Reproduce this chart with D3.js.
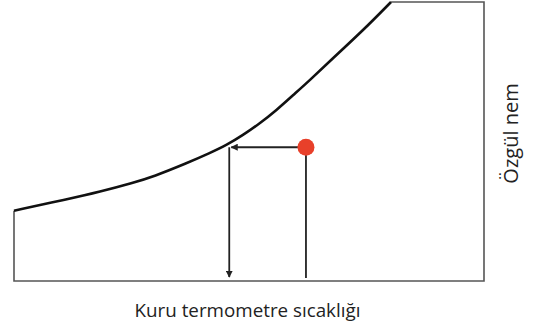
<!DOCTYPE html>
<html><head><meta charset="utf-8">
<script src="https://cdn.jsdelivr.net/npm/d3@7"></script>
<style>body{margin:0;background:#fff}svg{display:block}</style>
</head><body>
<svg id="c" width="534" height="330"></svg>
<script>
// saturation curve: dry-bulb temperature (°C) vs specific humidity (g/kg)
const satTemps = [0, 5.61, 9.15, 12.69, 14.82, 18.37, 20.85, 22.63, 24.39, 26.17, 27.95, 29.71, 31.49, 33.62, 37.13, 40.11];
const satHum   = [7.56, 8.78, 9.6, 10.57, 11.22, 12.66, 13.76, 14.62, 15.7, 16.96, 18.39, 20.0, 21.61, 23.66, 26.94, 30.0];
const stateTemp = 31.06, stateHum = 14.38, dewTemp = 22.9;
const tempDomain = [0, 50], humDomain = [0, 30];
const xLabel = "Kuru termometre sıcaklığı", yLabel = "Özgül nem";

const svg = d3.select("#c");
const x = d3.scaleLinear().domain(tempDomain).range([14, 484]);
const y = d3.scaleLinear().domain(humDomain).range([281, 2]);

const defs = svg.append("defs");
defs.append("marker").attr("id","ah").attr("viewBox","0 0 10 10").attr("refX",9).attr("refY",5)
  .attr("markerWidth",4).attr("markerHeight",4).attr("orient","auto")
  .append("path").attr("d","M0,0L10,5L0,10Z").attr("fill","#222");

const border = "#555";
// frame
const frame = [[0, satHum[0]], [0, 0], [tempDomain[1], 0], [tempDomain[1], humDomain[1]], [satTemps[satTemps.length-1], humDomain[1]]];
svg.append("path").attr("d", d3.line().x(d=>x(d[0])).y(d=>y(d[1]))(frame))
  .attr("fill","none").attr("stroke",border).attr("stroke-width",1.6);

// saturation curve
const pts = satTemps.map((t,i)=>[t, satHum[i]]);
svg.append("path").attr("d", d3.line().x(d=>x(d[0])).y(d=>y(d[1])).curve(d3.curveBasis)(pts))
  .attr("fill","none").attr("stroke","#111").attr("stroke-width",2.6);

// horizontal to dew point
svg.append("line").attr("x1",x(stateTemp)).attr("y1",y(stateHum)).attr("x2",x(dewTemp)+2).attr("y2",y(stateHum))
  .attr("stroke","#222").attr("stroke-width",1.8).attr("marker-end","url(#ah)");
// down from dew point
svg.append("line").attr("x1",x(dewTemp)).attr("y1",y(stateHum)).attr("x2",x(dewTemp)).attr("y2",y(0)-4)
  .attr("stroke","#222").attr("stroke-width",1.8).attr("marker-end","url(#ah)");
// down from state point
svg.append("line").attr("x1",x(stateTemp)).attr("y1",y(stateHum)).attr("x2",x(stateTemp)).attr("y2",y(0)-3)
  .attr("stroke","#222").attr("stroke-width",1.8);
// state point
svg.append("circle").attr("cx",x(stateTemp)).attr("cy",y(stateHum)).attr("r",8.5).attr("fill","#e8402a");

svg.append("text").attr("x",247.5).attr("y",317).attr("text-anchor","middle")
  .attr("font-family","'Open Sans', sans-serif").attr("font-size",18.8).attr("fill","#222").text(xLabel);
svg.append("text").attr("transform","translate(518,133.5) rotate(-90)").attr("text-anchor","middle")
  .attr("font-family","'Open Sans', sans-serif").attr("font-size",20).attr("fill","#222").text(yLabel);
</script>
</body></html>
